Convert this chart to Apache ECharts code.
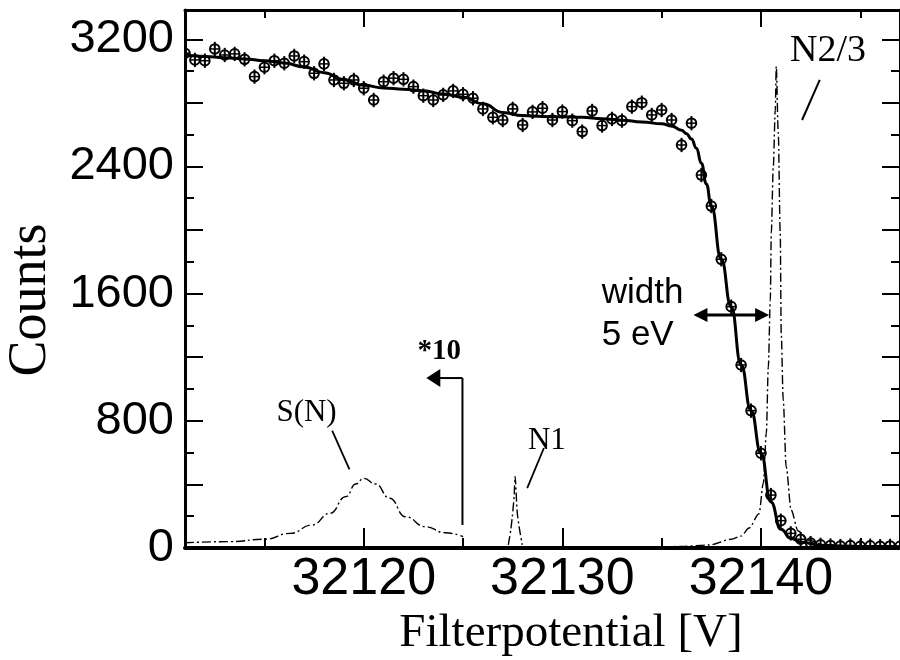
<!DOCTYPE html>
<html>
<head>
<meta charset="utf-8">
<script src="https://cdn.jsdelivr.net/npm/echarts@6/dist/echarts.min.js"></script>
<style>
  html, body { margin: 0; padding: 0; background: #fff; }
  #chart { width: 900px; height: 660px; }
</style>
</head>
<body>
<div id="chart"></div>
<script>
// ---- measured scan: filter potential (V) and counts ----
const scanVoltage = [
  32111.0, 32111.5, 32112.0, 32112.5, 32113.0, 32113.5, 32114.0, 32114.5, 32115.0, 32115.5,
  32116.0, 32116.5, 32117.0, 32117.5, 32118.0, 32118.5, 32119.0, 32119.5, 32120.0, 32120.5,
  32121.0, 32121.5, 32122.0, 32122.5, 32123.0, 32123.5, 32124.0, 32124.5, 32125.0, 32125.5,
  32126.0, 32126.5, 32127.0, 32127.5, 32128.0, 32128.5, 32129.0, 32129.5, 32130.0, 32130.5,
  32131.0, 32131.5, 32132.0, 32132.5, 32133.0, 32133.5, 32134.0, 32134.5, 32135.0, 32135.5,
  32136.0, 32136.5, 32137.0, 32137.5, 32138.0, 32138.5, 32139.0, 32139.5, 32140.0, 32140.5,
  32141.0, 32141.5, 32142.0, 32142.5, 32143.0, 32143.5, 32144.0, 32144.5, 32145.0, 32145.5,
  32146.0, 32146.5, 32147.0
];
const scanCounts = [
  3112, 3070, 3065, 3139, 3101, 3108, 3074, 2965, 3024, 3065,
  3049, 3095, 3059, 2986, 3045, 2944, 2923, 2944, 2892, 2818,
  2933, 2955, 2948, 2902, 2845, 2818, 2850, 2875, 2854, 2829,
  2762, 2709, 2692, 2762, 2661, 2743, 2766, 2692, 2745, 2688,
  2619, 2749, 2657, 2699, 2688, 2776, 2801, 2724, 2755, 2692,
  2535, 2672, 2346, 2151, 1816, 1518, 1151, 864, 596, 333,
  172, 92, 55, 31, 20, 16, 12, 15, 10, 14,
  11, 13, 10
];
const scanError = 45; // half length of the error bars, counts

// ---- fitted transmission curve ----
const fitVoltage = [
  32111, 32112, 32113, 32114, 32115, 32116, 32117, 32118, 32119, 32120,
  32121, 32122, 32123, 32124, 32125, 32126, 32127, 32128, 32129, 32130,
  32131, 32132, 32133, 32134, 32135, 32135.5, 32136, 32136.25, 32136.5, 32136.75,
  32137, 32137.25, 32137.5, 32138, 32138.5, 32139, 32139.5, 32140, 32140.5, 32141,
  32141.5, 32142, 32143, 32144, 32145, 32146, 32147
];
const fitCounts = [
  3101, 3092, 3084, 3076, 3065, 3050, 3026, 2990, 2945, 2910,
  2894, 2886, 2876, 2856, 2836, 2794, 2740, 2720, 2714, 2712,
  2709, 2700, 2691, 2680, 2668, 2654, 2628, 2606, 2572, 2515,
  2420, 2290, 2151, 1816, 1518, 1151, 864, 596, 290, 118,
  62, 38, 18, 12, 10, 9, 8
];

// ---- line spectra (dash-dot) ----
// S(N) satellite, drawn ×10 left of 32125 V
const snVoltage = [32111, 32113.3, 32115, 32116.3, 32117.4, 32118.3, 32119.1, 32119.6, 32120, 32120.6, 32121.3, 32122.1, 32123.1, 32124.1, 32125];
const snCounts  = [33, 40, 55, 92, 145, 218, 323, 403, 438, 403, 313, 197, 134, 96, 71];
// N1 line
const n1Voltage = [32127.28, 32127.40, 32127.48, 32127.57, 32127.62, 32127.73, 32127.85, 32127.98];
const n1Counts  = [19, 113, 197, 323, 450, 220, 113, 19];
// N2/3 line
const n23Voltage = [32135, 32136, 32137.4, 32138.5, 32139.0, 32139.4, 32139.9, 32140.12, 32140.27, 32140.37, 32140.47, 32140.52, 32140.62, 32140.72, 32140.77, 32140.87, 32140.97, 32141.02, 32141.12, 32141.27, 32141.52, 32141.87, 32142.37, 32143.2, 32144.5, 32147];
const n23Counts  = [6, 10, 19, 55, 75, 126, 215, 409, 723, 1139, 1560, 1982, 2397, 2755, 3030, 2611, 1982, 1352, 931, 510, 239, 107, 50, 19, 8, 5];

// ---- axes ----
const xMin = 32111, xMax = 32147;
const yMin = 0, yMax = 3384;
const xLabelValues = [32120, 32130, 32140];
const xMinorValues = [32115, 32125, 32135, 32145];
const yLabelValues = [0, 800, 1600, 2400, 3200];
const yMajorValues = [0, 400, 800, 1200, 1600, 2000, 2400, 2800, 3200];
const yMinorValues = [200, 600, 1000, 1400, 1800, 2200, 2600, 3000];

const SANS = '"Liberation Sans", Arial, Helvetica, sans-serif';
const SERIF = '"Liberation Serif", "Times New Roman", serif';
const INK = '#000';
const dashDot = [9, 3, 2, 3];

const pairs = (xs, ys) => xs.map((x, i) => [x, ys[i]]);

function xAxisDef(position, ticks, len, withLine, withLabels) {
  return {
    type: 'value', min: xMin, max: xMax, position,
    splitLine: { show: false },
    axisLine: { show: withLine, onZero: false, lineStyle: { color: INK, width: position === 'bottom' ? 4 : 3 } },
    axisTick: { show: true, inside: true, length: len, customValues: ticks, lineStyle: { color: INK, width: 2 } },
    axisLabel: withLabels ? {
      show: true, customValues: xLabelValues, color: INK, fontFamily: SANS, fontSize: 52, margin: 6,
      formatter: v => String(v)
    } : { show: false }
  };
}
function yAxisDef(position, ticks, len, withLine, withLabels) {
  return {
    type: 'value', min: yMin, max: yMax, position,
    splitLine: { show: false },
    axisLine: { show: withLine, onZero: false, lineStyle: { color: INK, width: 3 } },
    axisTick: { show: true, inside: true, length: len, customValues: ticks, lineStyle: { color: INK, width: 2 } },
    axisLabel: withLabels ? {
      show: true, customValues: yLabelValues, color: INK, fontFamily: SANS, fontSize: 47, margin: 11,
      formatter: v => String(v)
    } : { show: false }
  };
}

// Measured point: open circle with a bar, plus vertical error bar
function renderPoint(params, api) {
  const v = api.value(0), c = api.value(1);
  const p = api.coord([v, c]);
  const hi = api.coord([v, c + scanError]);
  const lo = api.coord([v, Math.max(c - scanError, 0)]);
  const r = 4.8;
  return {
    type: 'group',
    children: [
      { type: 'line', shape: { x1: p[0], y1: hi[1], x2: p[0], y2: lo[1] }, style: { stroke: INK, lineWidth: 2 } },
      { type: 'circle', shape: { cx: p[0], cy: p[1], r }, style: { stroke: INK, lineWidth: 2, fill: 'rgba(255,255,255,0)' } },
      { type: 'line', shape: { x1: p[0] - r, y1: p[1], x2: p[0] + r, y2: p[1] }, style: { stroke: INK, lineWidth: 1.5 } }
    ]
  };
}

const chart = echarts.init(document.getElementById('chart'), null, { renderer: 'canvas' });

chart.setOption({
  animation: false,
  backgroundColor: '#fff',
  grid: { left: 185, top: 10, width: 717, height: 538, containLabel: false },
  xAxis: [
    xAxisDef('bottom', xLabelValues, 20, true, true),
    xAxisDef('bottom', xMinorValues, 10, false, false),
    xAxisDef('top', xLabelValues, 17, true, false),
    xAxisDef('top', xMinorValues, 8, false, false)
  ],
  yAxis: [
    yAxisDef('left', yMajorValues, 18, true, true),
    yAxisDef('left', yMinorValues, 9, false, false),
    yAxisDef('right', yMajorValues, 18, true, false),
    yAxisDef('right', yMinorValues, 9, false, false)
  ],
  series: [
    {
      name: 'fit', type: 'line', data: pairs(fitVoltage, fitCounts),
      showSymbol: false, smooth: 0.5, smoothMonotone: 'x',
      lineStyle: { color: INK, width: 3 }, z: 3
    },
    {
      name: 'S(N)', type: 'line', data: pairs(snVoltage, snCounts),
      showSymbol: false, smooth: 0.5, smoothMonotone: 'x',
      lineStyle: { color: INK, width: 1.4, type: dashDot }, z: 2
    },
    {
      name: 'N1', type: 'line', data: pairs(n1Voltage, n1Counts),
      showSymbol: false, smooth: 0.2,
      lineStyle: { color: INK, width: 1.4, type: dashDot }, z: 2
    },
    {
      name: 'N2/3', type: 'line', data: pairs(n23Voltage, n23Counts),
      showSymbol: false, smooth: 0.3, smoothMonotone: 'x',
      lineStyle: { color: INK, width: 1.4, type: dashDot }, z: 2
    },
    {
      name: 'counts', type: 'custom', clip: true,
      data: pairs(scanVoltage, scanCounts),
      encode: { x: 0, y: 1 },
      renderItem: renderPoint, z: 4
    }
  ]
});

// ---- annotations, anchored in data units [V, counts] ----
const toPx = (pt) => chart.convertToPixel({ xAxisIndex: 0, yAxisIndex: 0 }, pt);
const seg = (a, b, w) => {
  const p = toPx(a), q = toPx(b);
  return { type: 'line', shape: { x1: p[0], y1: p[1], x2: q[0], y2: q[1] }, style: { stroke: INK, lineWidth: w }, z: 10 };
};
const label = (pt, text, font, align) => {
  const p = toPx(pt);
  return { type: 'text', x: p[0], y: p[1], style: { text, font, fill: INK, align: align || 'center', verticalAlign: 'middle' }, z: 10 };
};
const head = (tip, dir, len, half) => {
  const t = toPx(tip);
  const bx = t[0] - dir * len;
  return { type: 'polygon', shape: { points: [[t[0], t[1]], [bx, t[1] - half], [bx, t[1] + half]] }, style: { fill: INK }, z: 10 };
};

const scaleArrowFoot = [32124.97, 145], scaleArrowCorner = [32124.97, 1069], scaleArrowTip = [32123.15, 1069];
const widthLeft = [32136.60, 1466], widthRight = [32140.41, 1466];
const tipL = toPx(widthLeft), tipR = toPx(widthRight);

chart.setOption({
  graphic: [
    label([32143.38, 3126], 'N2/3', '38px ' + SERIF),
    seg([32142.96, 2944], [32142.07, 2692], 2),
    label([32117.12, 849], 'S(N)', '31px ' + SERIF),
    seg([32118.41, 738], [32119.28, 495], 1.8),
    label([32129.22, 673], 'N1', '31px ' + SERIF),
    seg([32129.07, 629], [32128.23, 377], 1.8),
    label([32123.80, 1233], '*10', 'bold 29px ' + SERIF),
    seg(scaleArrowFoot, scaleArrowCorner, 2),
    seg(scaleArrowCorner, [32123.75, 1069], 2),
    head(scaleArrowTip, -1, 14, 9),
    label([32131.98, 1600], 'width', '35px ' + SANS, 'left'),
    label([32131.98, 1336], '5 eV', '35px ' + SANS, 'left'),
    {
      type: 'line', shape: { x1: tipL[0] + 10, y1: tipL[1], x2: tipR[0] - 10, y2: tipR[1] },
      style: { stroke: INK, lineWidth: 3 }, z: 10
    },
    head(widthLeft, -1, 14, 7),
    head(widthRight, 1, 14, 7),
    {
      type: 'text', x: 31, y: 300, rotation: Math.PI / 2,
      style: { text: 'Counts', font: '54px ' + SERIF, fill: INK, align: 'center', verticalAlign: 'middle' }
    },
    {
      type: 'text', x: 571, y: 634,
      style: { text: 'Filterpotential [V]', font: '47px ' + SERIF, fill: INK, align: 'center', verticalAlign: 'middle' }
    }
  ]
});
</script>
</body>
</html>
